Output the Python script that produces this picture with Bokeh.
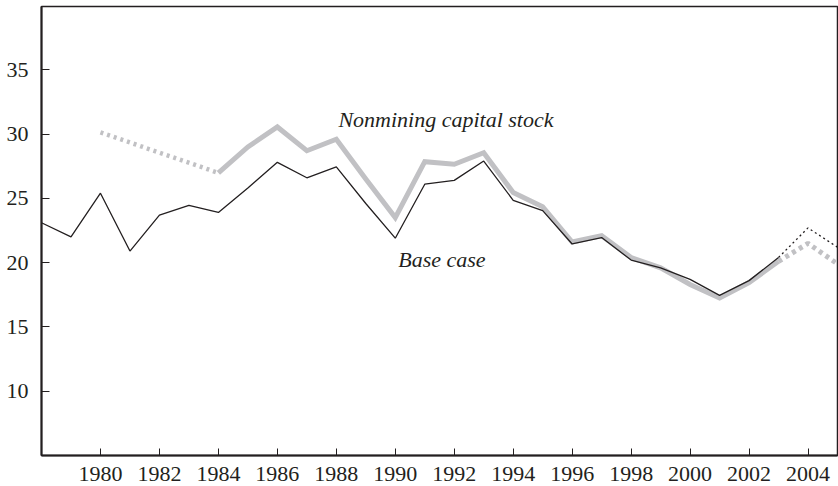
from bokeh.plotting import figure
from bokeh.models import FixedTicker, Range1d
from bokeh.core.properties import value
from bokeh.embed import file_html
from bokeh.resources import INLINE

# ---- data ----
base_years = list(range(1978, 2004))
base_vals = [23.1, 22.0, 25.4, 20.9, 23.7, 24.45, 23.9, 25.8, 27.8, 26.6,
             27.45, 24.6, 21.9, 26.1, 26.4, 27.9, 24.85, 24.05, 21.45, 21.95,
             20.2, 19.6, 18.7, 17.45, 18.6, 20.4]
base_proj_years = [2003, 2004, 2005]
base_proj_vals = [20.4, 22.7, 21.2]

nonmining_years = list(range(1984, 2004))
nonmining_vals = [26.98, 29.0, 30.55, 28.7, 29.6, 26.5, 23.5, 27.85, 27.65, 28.55,
                  25.45, 24.35, 21.6, 22.1, 20.4, 19.6, 18.3, 17.25, 18.45, 20.1]
nonmining_early_years = [1980, 1984]
nonmining_early_vals = [30.13, 26.98]
nonmining_proj_years = [2003, 2004, 2005]
nonmining_proj_vals = [20.1, 21.5, 19.9]

x_ticks = list(range(1980, 2005, 2))
y_ticks = [10, 15, 20, 25, 30, 35]

label_nonmining = "Nonmining capital stock"
label_base = "Base case"

INK = "#231f20"
GRAY = "#c1c1c4"
FONT = "Liberation Serif"

p = figure(width=838, height=486, output_backend="svg", toolbar_location=None,
           x_range=Range1d(1978, 2005), y_range=Range1d(5, 39.92),
           min_border_left=41, min_border_right=1, min_border_top=6,
           min_border_bottom=31)

p.background_fill_color = "white"
p.border_fill_color = "white"
p.outline_line_color = INK
p.outline_line_width = 1.5
p.xgrid.visible = False
p.ygrid.visible = False

for ax, ticks in ((p.xaxis[0], x_ticks), (p.yaxis[0], y_ticks)):
    ax.ticker = FixedTicker(ticks=ticks)
    ax.minor_tick_line_color = None
    ax.major_tick_in = 7
    ax.major_tick_out = 0
    ax.major_tick_line_color = INK
    ax.major_tick_line_width = 1
    ax.axis_line_color = INK
    ax.axis_line_width = 2
    ax.major_label_text_font = FONT
    ax.major_label_text_font_size = "22px"
    ax.major_label_text_color = INK
p.xaxis.major_label_standoff = 11
p.yaxis.major_label_standoff = 13
p.yaxis.major_tick_in = 8

# nonmining (gray thick)
p.line(nonmining_early_years, nonmining_early_vals, line_color=GRAY, line_width=4.5,
       line_dash="3 4")
p.line(nonmining_years, nonmining_vals, line_color=GRAY, line_width=5,
       line_join="miter")
p.line(nonmining_proj_years, nonmining_proj_vals, line_color=GRAY, line_width=5,
       line_dash="4 4")

# base case (black thin)
p.line(base_years, base_vals, line_color=INK, line_width=1.3)
p.line(base_proj_years, base_proj_vals, line_color=INK, line_width=1.3,
       line_dash="2 3")

p.text(x=[1988.07], y=[31.15], text=[label_nonmining], text_font=value(FONT),
       text_font_style="italic", text_font_size="22px", text_color=INK,
       text_align="left", text_baseline="alphabetic")
p.text(x=[1990.1], y=[20.25], text=[label_base], text_font=value(FONT),
       text_font_style="italic", text_font_size="22px", text_color=INK,
       text_align="left", text_baseline="alphabetic")

open("out.html", "w").write(file_html(p, INLINE))
